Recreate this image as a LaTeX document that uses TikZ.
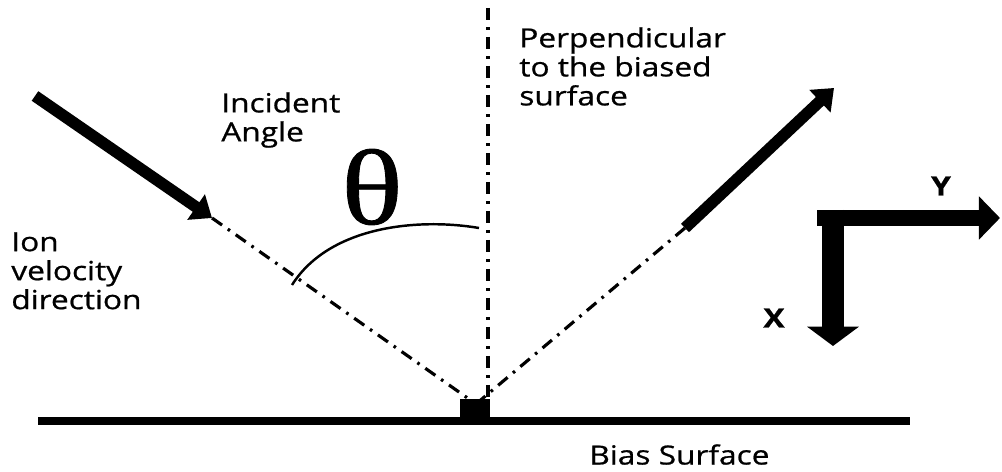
\documentclass[tikz,border=0pt]{standalone}
\usepackage{fontspec}
\setmainfont{Open Sans}[FakeStretch=1.2,FakeBold=0.8]
\newfontfamily\greekfont{Liberation Serif}[FakeStretch=1.2,FakeBold=0.8]
\usetikzlibrary{arrows.meta,positioning,calc}
\definecolor{ink}{HTML}{000000}
\tikzset{lbl/.style={anchor=north west,inner sep=0pt,align=left,font=\fontsize{15}{16.5}\selectfont,text=ink},ray/.style={draw=ink,line width=1.8pt,dash pattern=on 7pt off 4pt on 1.5pt off 4pt},beam/.style={draw=ink,line width=6.6pt,-{Triangle[length=11pt,width=17pt]}},axis/.style={draw=ink,line width=9pt,-{Triangle[length=12pt,width=24pt]}}}

\begin{document}
\begin{tikzpicture}[x=0.02cm,y=-0.02cm]
\useasboundingbox (0,0) rectangle (1002,472);
\coordinate (hit) at (476,404);\coordinate (top) at (488,8);\coordinate (foot) at (488,400);
\coordinate (in0) at (35,96);\coordinate (in1) at (212,218);
\coordinate (out0) at (685,228);\coordinate (out1) at (834,88);
\coordinate (ax0) at (817,218);\coordinate (axy) at (1000,218);\coordinate (axx0) at (833,210);\coordinate (axx) at (833,346);
% surface and target
\draw[ink,line width=4.6pt] (38,421) coordinate (s0) -- (910,421) coordinate (s1);
\node[fill=ink,minimum width=0.6cm,minimum height=0.36cm,inner sep=0pt] (blk) at (475,408) {};
% rays
\draw[ray] (top)--(foot);
\draw[ray] (in1)--(hit);\draw[ray] (hit)--(out0);
\draw[beam] (in0)--(in1);\draw[beam] (out0)--(out1);
% angle
\coordinate (a0) at (292,285);\coordinate (a1) at (479,228);
\draw[ink,line width=1.4pt] (a0) .. controls (330,225) and (420,218) .. (a1);
\node[font=\greekfont\fontsize{61}{61}\selectfont,inner sep=0pt] (th) at (372,187) {θ};
% axes
\draw[axis] (ax0)--(axy);\draw[axis,line width=12.5pt,-{Triangle[length=11pt,width=29pt]}] (axx0)--(axx);
\node[font=\bfseries\fontsize{15}{15}\selectfont,inner sep=0pt] (ylbl) at (941,186) {Y};
\node[font=\bfseries\fontsize{15}{15}\selectfont,inner sep=0pt] (xlbl) at (774,318) {X};
% labels
\node[lbl] (inc) at (221,92) {Incident\\Angle};
\node[lbl] (ion) at (11,232) {Ion\\velocity\\direction};
\node[lbl] (perp) at (519,27) {Perpendicular\\to the biased\\surface};
\node[lbl] (bias) at (589,444) {Bias Surface};
\end{tikzpicture}
\end{document}
